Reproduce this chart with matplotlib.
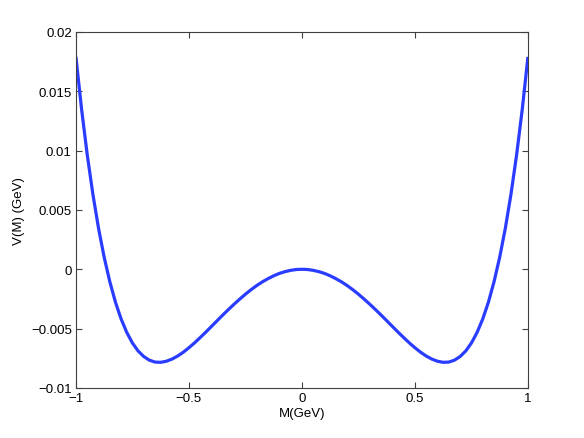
import numpy as np
import matplotlib
matplotlib.use('Agg')
import matplotlib.pyplot as plt

# values (curve is symmetric about M=0)
m_half = [0.0, 0.025, 0.05, 0.075, 0.1, 0.125, 0.15, 0.175, 0.2, 0.225, 0.25,
          0.275, 0.3, 0.325, 0.35, 0.375, 0.4, 0.425, 0.45, 0.475, 0.5, 0.525,
          0.55, 0.575, 0.6, 0.625, 0.65, 0.675, 0.7, 0.725, 0.75, 0.775, 0.8,
          0.825, 0.85, 0.875, 0.9, 0.925, 0.95, 0.975, 1.0]
v_half = [0.0, -0.00002, -0.00009, -0.0002, -0.00035, -0.00055, -0.00079,
          -0.00106, -0.00137, -0.00172, -0.0021, -0.00251, -0.00294, -0.00339,
          -0.00385, -0.00433, -0.00481, -0.00529, -0.00575, -0.0062, -0.00661,
          -0.00699, -0.00731, -0.00757, -0.00775, -0.00784, -0.00782, -0.00766,
          -0.00735, -0.00688, -0.00621, -0.00532, -0.00419, -0.00278, -0.00105,
          0.00101, 0.00346, 0.00633, 0.00966, 0.0135, 0.0179]
xticks = [-1, -0.5, 0, 0.5, 1]
xticklabels = ['\u22121', '\u22120.5', '0', '0.5', '1']
yticks = [-0.01, -0.005, 0, 0.005, 0.01, 0.015, 0.02]
yticklabels = ['\u22120.01', '\u22120.005', '0', '0.005', '0.01', '0.015', '0.02']

M = np.concatenate([-np.array(m_half[:0:-1]), m_half])
V = np.concatenate([np.array(v_half[:0:-1]), v_half])

plt.rcParams['font.family'] = ['Liberation Sans', 'DejaVu Sans']
fig = plt.figure(figsize=(5.84, 4.39), dpi=100)
ax = fig.add_axes([0.130, 0.114, 0.774, 0.811])
ax.plot(M, V, color='#2a3cff', lw=2.3, solid_joinstyle='round',
        solid_capstyle='butt')

ax.set_xlim(-1, 1)
ax.set_ylim(-0.01, 0.02)
ax.set_xticks(xticks)
ax.set_xticklabels(xticklabels)
ax.set_yticks(yticks)
ax.set_yticklabels(yticklabels)
ax.tick_params(direction='in', length=4, width=0.8, top=True, right=True,
               labelsize=9.5, color='#404040', pad=3)
for s in ax.spines.values():
    s.set_color('#404040')
    s.set_linewidth(0.8)
ax.set_xlabel('M(GeV)', fontsize=9.5, labelpad=2)
ax.set_ylabel('V(M) (GeV)', fontsize=9.5, labelpad=4)

fig.savefig('out.png', dpi=100)
